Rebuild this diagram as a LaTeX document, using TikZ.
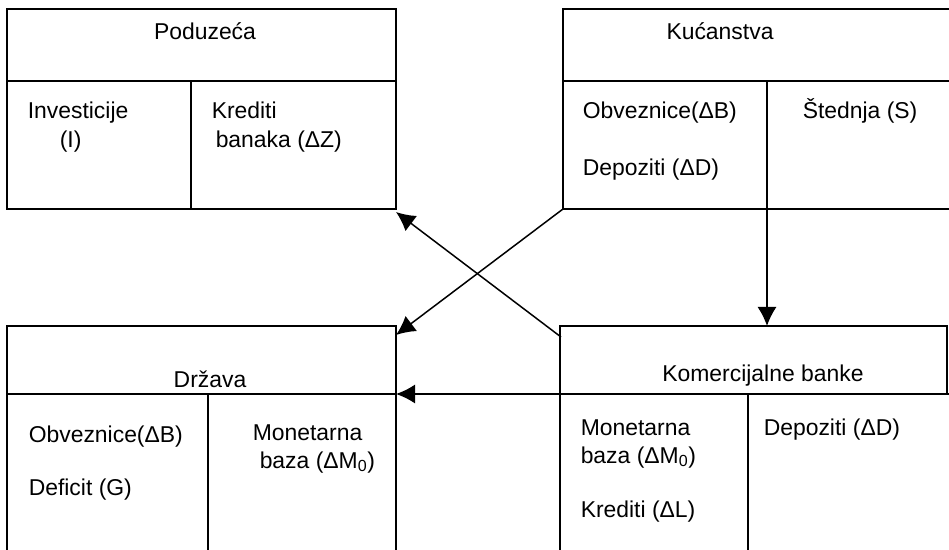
\documentclass[tikz,border=0pt]{standalone}
\usepackage{fontspec}
\setmainfont{Liberation Sans}
\usetikzlibrary{arrows.meta}
\begin{document}
\begin{tikzpicture}[x=1bp,y=-1bp,line width=1.5bp,
  lbl/.style={anchor=base west,inner sep=0pt,font=\fontsize{23}{27}\selectfont},
  ttl/.style={anchor=base,inner sep=0pt,font=\fontsize{23}{27}\selectfont},
  arr/.style={-{Latex[length=19bp,width=19bp]}}]
\useasboundingbox (0,0) rectangle (949,550);
% corner coordinates
\coordinate (pod-tl) at (7,9);
\coordinate (pod-br) at (396,209);
\coordinate (kuc-bl) at (563,209);
\coordinate (drz-tip) at (396,335);
\coordinate (pod-tip) at (396,212);
\coordinate (ban-start) at (561,337);
\coordinate (kuc-div) at (767,209);
\coordinate (ban-top) at (767,326);
\coordinate (ban-hl) at (560,394);
\coordinate (drz-hr) at (396,394);
% Poduzeća
\draw (pod-tl) rectangle (pod-br);
\draw (7,81) -- (396,81);
\draw (191,81) -- (191,209);
% Kućanstva
\draw (949,9) -- (563,9) -- (kuc-bl) -- (949,209);
\draw (563,81) -- (949,81);
\draw (767,81) -- (kuc-div);
% Država
\draw (7,550) -- (7,326) -- (396,326) -- (396,550);
\draw (7,394) -- (396,394);
\draw (208,394) -- (208,550);
% Komercijalne banke
\draw (560,550) -- (560,326) -- (947,326) -- (947,394);
\draw (ban-hl) -- (949,394);
\draw (748,394) -- (748,550);
% texts
\node[ttl] (t-pod) at (205,40) {Poduzeća};
\node[lbl] (t-inv) at (27,119) {Investicije};
\node[lbl] (t-i) at (59,148) {(I)};
\node[lbl] (t-kred) at (211,119) {Krediti};
\node[lbl] (t-ban) at (215,148) {banaka (ΔZ)};
\node[ttl] (t-kuc) at (720,40) {Kućanstva};
\node[lbl] (t-obv1) at (582,119) {Obveznice(ΔB)};
\node[lbl] (t-dep1) at (582,176) {Depoziti (ΔD)};
\node[lbl] (t-ste) at (802,119) {Štednja (S)};
\node[ttl] (t-drz) at (210,387) {Država};
\node[lbl] (t-obv2) at (28,442) {Obveznice(ΔB)};
\node[lbl] (t-def) at (28,495) {Deficit (G)};
\node[lbl] (t-mon1) at (252,440) {Monetarna};
\node[lbl] (t-baz1) at (259,468) {baza (ΔM\textsubscript{0})};
\node[ttl] (t-kom) at (763,381) {Komercijalne banke};
\node[lbl] (t-mon2) at (580,435) {Monetarna};
\node[lbl] (t-baz2) at (580,463) {baza (ΔM\textsubscript{0})};
\node[lbl] (t-kred2) at (580,517) {Krediti (ΔL)};
\node[lbl] (t-dep2) at (763,435) {Depoziti (ΔD)};
% arrows
\draw[arr] (kuc-bl) -- (drz-tip);
\draw[arr] (ban-start) -- (pod-tip);
\draw[arr] (kuc-div) -- (ban-top);
\draw[arr] (ban-hl) -- (drz-hr);
\end{tikzpicture}
\end{document}
